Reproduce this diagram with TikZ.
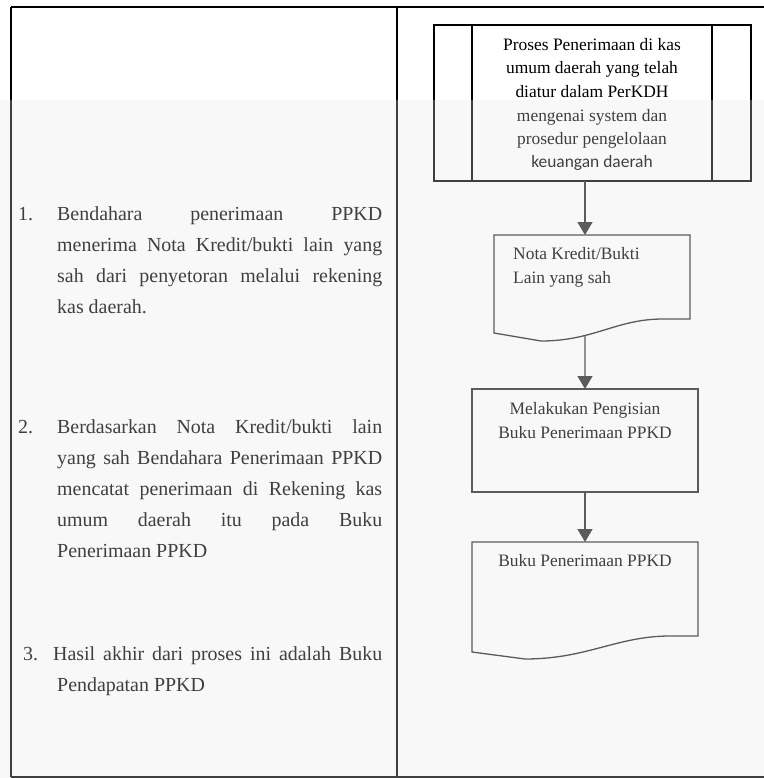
\documentclass[tikz,border=0pt]{standalone}
\usepackage{fontspec}
\setmainfont{Liberation Serif}
\newfontfamily\carlitofont{Carlito}
\usetikzlibrary{arrows.meta,calc,intersections}

\begin{document}
\begin{tikzpicture}[x=1bp,y=-1bp,
  rule/.style={line width=2bp,black},
  shapeline/.style={line width=1.3bp,black!85},
  flowarrow/.style={shapeline,-{Triangle[width=15bp,length=13bp]}},
  boxshape/.style={draw=black!85,line width=1.3bp,inner sep=0pt,outer sep=0pt},
  paper/.style={inner sep=0pt,outer sep=0pt},
  flowtext/.style={font=\fontsize{17.5}{23}\selectfont,inner sep=0pt,anchor=base},
  bodytext/.style={font=\fontsize{20}{31}\selectfont,inner sep=0pt,anchor=base west},
]
\useasboundingbox (0,0) rectangle (764,778);

% table frame
\draw[rule] (11,7) -- (764,7);
\draw[rule] (11,777) -- (764,777);
\draw[rule] (11,7) -- (11,777);
\draw[rule] (397,7) -- (397,777);

% left column: steps
\node[bodytext] (n1) at (18,220) {1.};
\node[bodytext] (s1a) at (57,220) {\makebox[325bp][s]{Bendahara penerimaan PPKD}};
\node[bodytext] (s1b) at (57,251) {\makebox[325bp][s]{menerima Nota Kredit/bukti lain yang}};
\node[bodytext] (s1c) at (57,282) {\makebox[325bp][s]{sah dari penyetoran melalui rekening}};
\node[bodytext] (s1d) at (57,313) {kas daerah.};

\node[bodytext] (n2) at (18,433) {2.};
\node[bodytext] (s2a) at (57,433) {\makebox[325bp][s]{Berdasarkan Nota Kredit/bukti lain}};
\node[bodytext] (s2b) at (57,464) {\makebox[325bp][s]{yang sah Bendahara Penerimaan PPKD}};
\node[bodytext] (s2c) at (57,495) {\makebox[325bp][s]{mencatat penerimaan di Rekening kas}};
\node[bodytext] (s2d) at (57,526) {\makebox[325bp][s]{umum daerah itu pada Buku}};
\node[bodytext] (s2e) at (57,557) {Penerimaan PPKD};

\node[bodytext] (n3) at (23,660) {3.};
\node[bodytext] (s3a) at (53,660) {\makebox[329bp][s]{Hasil akhir dari proses ini adalah Buku}};
\node[bodytext] (s3b) at (57,691) {Pendapatan PPKD};

% predefined process
\node[boxshape,draw=black,line width=1.6bp,minimum width=317bp,minimum height=156bp] (top) at (592.5,103) {};
\draw[line width=1.6bp] ($(top.north west)+(38,0)$) -- ($(top.south west)+(38,0)$);
\draw[line width=1.6bp] ($(top.north east)+(-39,0)$) -- ($(top.south east)+(-39,0)$);
\node[flowtext] (t1) at (592,51) {Proses Penerimaan di kas};
\node[flowtext] (t2) at (592,74) {umum daerah yang telah};
\node[flowtext] (t3) at (592,97) {diatur dalam PerKDH};
\node[flowtext] (t4) at (592,121) {mengenai system dan};
\node[flowtext] (t5) at (592,144) {prosedur pengelolaan};
\node[flowtext,font=\carlitofont\fontsize{17.5}{23}\selectfont] (t6) at (592,167) {keuangan daerah};

% document: Nota Kredit
\node[paper,minimum width=196bp,minimum height=98bp] (doc2) at (592,284) {};
\draw[shapeline,name path=wave2] (doc2.south west) -- (doc2.north west) -- (doc2.north east)
  -- ($(doc2.south east)+(0,-14)$) -- ($(doc2.south west)+(169,-14)$)
  .. controls ($(doc2.south west)+(122,-14)$) and ($(doc2.south west)+(100,8)$) .. ($(doc2.south west)+(47,8)$)
  -- cycle;
\node[flowtext,anchor=base west] (d2a) at (513,259) {Nota Kredit/Bukti};
\node[flowtext,anchor=base west] (d2b) at (513,283) {Lain yang sah};

% process box
\node[boxshape,minimum width=226bp,minimum height=103bp] (box3) at (585,440.5) {};
\node[flowtext] (b3a) at (585,414) {Melakukan Pengisian};
\node[flowtext] (b3b) at (585,438) {Buku Penerimaan PPKD};

% document: Buku Penerimaan
\node[paper,minimum width=226bp,minimum height=110bp] (doc4) at (585,597) {};
\draw[shapeline] (doc4.south west) -- (doc4.north west) -- (doc4.north east)
  -- ($(doc4.south east)+(0,-16)$) -- ($(doc4.south west)+(198,-16)$)
  .. controls ($(doc4.south west)+(145,-16)$) and ($(doc4.south west)+(115,7)$) .. ($(doc4.south west)+(53,7)$)
  -- cycle;
\node[flowtext] (d4a) at (585,566) {Buku Penerimaan PPKD};

% connectors
\path[name path=vline2] (box3.north) -- ++(0,-150);
\path[name intersections={of=wave2 and vline2,by=doc2exit}];
\draw[flowarrow] (top.south -| box3.north) -- (doc2.north -| box3.north);
\draw[flowarrow] (doc2exit) -- (box3.north);
\draw[flowarrow] (box3.south) -- (doc4.north);

% light haze over the lower part of the page
\fill[black!10,opacity=0.28] (0,100) rectangle (764,778);
\end{tikzpicture}
\end{document}
